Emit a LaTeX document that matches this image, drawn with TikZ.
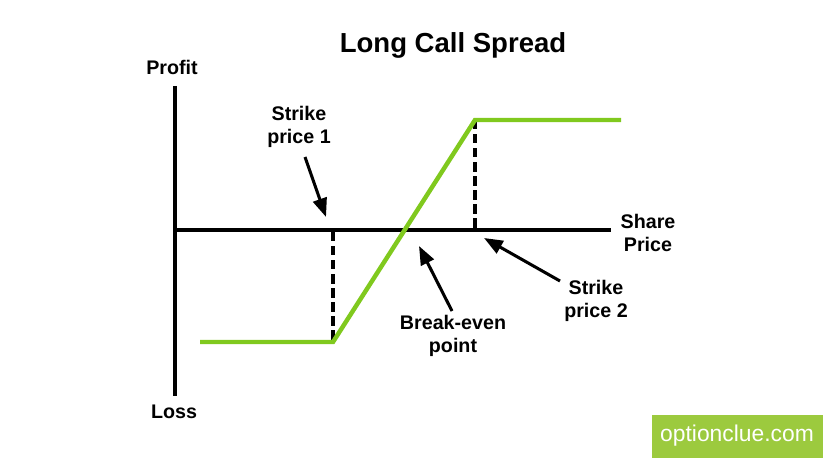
\documentclass[tikz,border=0pt]{standalone}
\usepackage{fontspec}
\setmainfont{Liberation Sans}
\usepackage{tikz}
\usetikzlibrary{arrows.meta}
\definecolor{payoff}{HTML}{80C91E}
\definecolor{brand}{HTML}{9CCA3E}

\begin{document}
\begin{tikzpicture}[
    x=0.03cm, y=-0.03cm,
    every node/.style={inner sep=0pt, align=center, font=\bfseries\fontsize{16.8}{20}\selectfont},
    axis/.style={line width=4.2pt},
    strike/.style={line width=3pt, dash pattern=on 8pt off 4pt},
    pointer/.style={line width=2.6pt, -{Triangle[length=16pt,width=12pt]}}
]
    \useasboundingbox (0,0) rectangle (823,458);

    % 1. Define the points
    \coordinate (O) at (175,230);
    \coordinate (Top) at (175,86);
    \coordinate (Bot) at (175,396);
    \coordinate (Right) at (611,230);
    \coordinate (L0) at (200,342);
    \coordinate (K1) at (333,342);
    \coordinate (K2) at (475,120);
    \coordinate (L3) at (621,120);
    \coordinate (K1a) at (333,232);
    \coordinate (K2a) at (475,228);
    \coordinate (tailA) at (305,157);
    \coordinate (tipA) at (326,217);
    \coordinate (tailB) at (452,311);
    \coordinate (tipB) at (419,246);
    \coordinate (tailC) at (560,281);
    \coordinate (tipC) at (484,238);

    % 2. Labels
    \node (title) at (453,45) {\fontsize{23.5}{28}\selectfont Long Call Spread};
    \node (profit) at (172,67) {Profit};
    \node (loss) at (174,412) {Loss};
    \node (share) at (648,233) {Share\\Price};
    \node (s1) at (299,127) {Strike\\price 1};
    \node (be) at (453,336) {Break-even\\point};
    \node (s2) at (596,301) {Strike\\price 2};

    % 3. Draw the axes
    \draw[axis] (Top) -- (Bot);
    \draw[axis] (O) -- (Right);

    % dashed strike lines
    \draw[strike] (K1a) -- (K1);
    \draw[strike] (K2) -- (K2a);

    % payoff (green)
    \draw[payoff, line width=3.8pt] (L0) -- (K1) -- (K2) -- (L3);

    % 4. Draw the arrows
    \draw[pointer] (tailA) -- (tipA);
    \draw[pointer] (tailB) -- (tipB);
    \draw[pointer] (tailC) -- (tipC);

    % logo
    \fill[brand] (652,415) rectangle (823,458);
    \node[text=white, font=\fontsize{19.5}{22}\selectfont] (logo) at (737,436) {optionclue.com};
\end{tikzpicture}
\end{document}
